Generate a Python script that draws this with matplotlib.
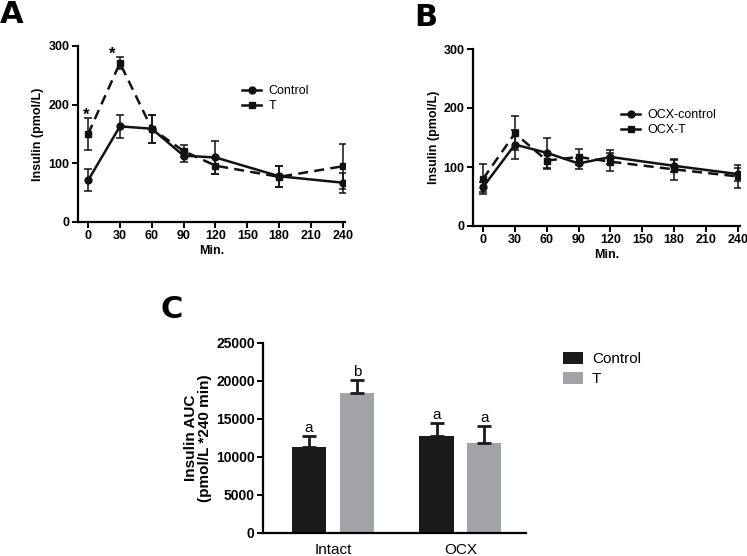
import numpy as np
import matplotlib
matplotlib.use("Agg")
import matplotlib.pyplot as plt
from matplotlib.lines import Line2D

plt.rcParams['font.family'] = ['Liberation Sans', 'DejaVu Sans']

# Время (мин)
minutes = [0, 30, 60, 90, 120, 180, 240]

# Панель A
control_a = [71, 163, 159, 113, 110, 78, 67]
control_a_sem = [19, 19, 24, 10, 28, 18, 17]
t_a = [150, 271, 159, 121, 96, 77, 95]
t_a_sem = [28, 11, 24, 10, 14, 18, 38]

# Панель B
control_b = [66, 138, 124, 106, 117, 102, 88]
control_b_sem = [9, 24, 26, 10, 12, 10, 11]
t_b = [80, 157, 111, 117, 109, 96, 84]
t_b_sem = [25, 29, 15, 14, 15, 18, 19]

# Панель C
groups = ["Intact", "OCX"]
auc_control = [11350, 12760]
auc_control_sem = [1450, 1760]
auc_t = [18400, 11800]
auc_t_sem = [1760, 2280]
letters_control = ["a", "a"]
letters_t = ["b", "a"]

FIG_W, FIG_H = 747, 556
DASH = (0, (4, 2.5))


def ax_rect(left, top, right, bottom):
    return [left / FIG_W, 1 - bottom / FIG_H, (right - left) / FIG_W, (bottom - top) / FIG_H]


def style_axes(ax, size=9):
    for s in ["top", "right"]:
        ax.spines[s].set_visible(False)
    for s in ["left", "bottom"]:
        ax.spines[s].set_linewidth(1.6)
    ax.tick_params(width=1.4, length=4, labelsize=size, pad=2)
    for lab in ax.get_xticklabels() + ax.get_yticklabels():
        lab.set_fontweight("bold")


def line_panel(ax, c, c_sem, t, t_sem, labels, leg_anchor):
    ax.errorbar(minutes, c, yerr=c_sem, color="#111111", lw=1.8, marker="o", ms=5,
                capsize=3, elinewidth=1.1, capthick=1.1)
    ax.errorbar(minutes, t, yerr=t_sem, color="#111111", lw=1.8, ls=DASH, marker="s",
                ms=5, capsize=3, elinewidth=1.1, capthick=1.1)
    ax.set_xlim(-9.5, 242)
    ax.set_ylim(0, 300)
    ax.set_xticks([0, 30, 60, 90, 120, 150, 180, 210, 240])
    ax.set_yticks([0, 100, 200, 300])
    ax.set_xlabel("Min.", fontsize=9, fontweight="bold", labelpad=2)
    ax.set_ylabel("Insulin (pmol/L)", fontsize=9, fontweight="bold", labelpad=3)
    style_axes(ax)
    handles = [Line2D([], [], color="#111111", lw=1.8, marker="o", ms=5),
               Line2D([], [], color="#111111", lw=1.8, marker="s", ms=5)]
    ax.legend(handles, labels, loc="center left", bbox_to_anchor=leg_anchor, frameon=False,
              fontsize=9, handlelength=1.5, handletextpad=0.6, labelspacing=0.25,
              borderpad=0, borderaxespad=0)


fig = plt.figure(figsize=(7.47, 5.56), dpi=100)

# A
ax_a = fig.add_axes(ax_rect(78, 46, 345, 222))
line_panel(ax_a, control_a, control_a_sem, t_a, t_a_sem, ["Control", "T"], (0.615, 0.70))
ax_a.text(-2, 170, "*", fontsize=12, fontweight="bold", ha="center", va="bottom")
ax_a.text(23, 273, "*", fontsize=12, fontweight="bold", ha="center", va="bottom")
fig.text(0 / FIG_W, 1 - 0 / FIG_H, "A", fontsize=22, fontweight="bold", va="top", ha="left",
         family="DejaVu Sans")

# B
ax_b = fig.add_axes(ax_rect(473, 49, 740, 226))
line_panel(ax_b, control_b, control_b_sem, t_b, t_b_sem, ["OCX-control", "OCX-T"], (0.555, 0.585))
fig.text(414 / FIG_W, 1 - 3 / FIG_H, "B", fontsize=22, fontweight="bold", va="top", ha="left",
         family="DejaVu Sans")

# C
ax_c = fig.add_axes(ax_rect(263, 343, 526, 533))
x = np.arange(len(groups))
off, w = 0.188, 0.267
ax_c.bar(x - off, auc_control, w, color="#1b1b1b", label="Control")
ax_c.bar(x + off, auc_t, w, color="#a2a3a6", label="T")
for xi, v, e in zip(x - off, auc_control, auc_control_sem):
    ax_c.errorbar(xi, v, yerr=[[0], [e]], color="#1b1b1b", capsize=5, elinewidth=2, capthick=2)
for xi, v, e in zip(x + off, auc_t, auc_t_sem):
    ax_c.errorbar(xi, v, yerr=[[0], [e]], color="#1b1b1b", capsize=5, elinewidth=2, capthick=2)
for xi, v, e, s in zip(x - off, auc_control, auc_control_sem, letters_control):
    ax_c.text(xi, v + e + 150, s, fontsize=11, ha="center", va="bottom")
for xi, v, e, s in zip(x + off, auc_t, auc_t_sem, letters_t):
    ax_c.text(xi, v + e + 150, s, fontsize=11, ha="center", va="bottom")
ax_c.set_xlim(-0.549, 1.514)
ax_c.set_ylim(0, 25000)
ax_c.set_yticks([0, 5000, 10000, 15000, 20000, 25000])
ax_c.set_xticks(x)
ax_c.set_xticklabels(groups)
ax_c.set_ylabel("Insulin AUC\n(pmol/L *240 min)", fontsize=11, fontweight="bold", labelpad=3,
                linespacing=1.0)
style_axes(ax_c, size=10)
ax_c.tick_params(axis="x", length=0, labelsize=11, pad=7)
for lab in ax_c.get_xticklabels():
    lab.set_fontweight("normal")
ax_c.legend(loc="upper left", bbox_to_anchor=(1.14, 0.953), frameon=False, fontsize=11,
            handlelength=1.3, handleheight=0.85, handletextpad=0.6, labelspacing=0.35,
            borderpad=0, borderaxespad=0)
fig.text(160 / FIG_W, 1 - 295 / FIG_H, "C", fontsize=22, fontweight="bold", va="top", ha="left",
         family="DejaVu Sans")

fig.savefig("out.png", dpi=100)
